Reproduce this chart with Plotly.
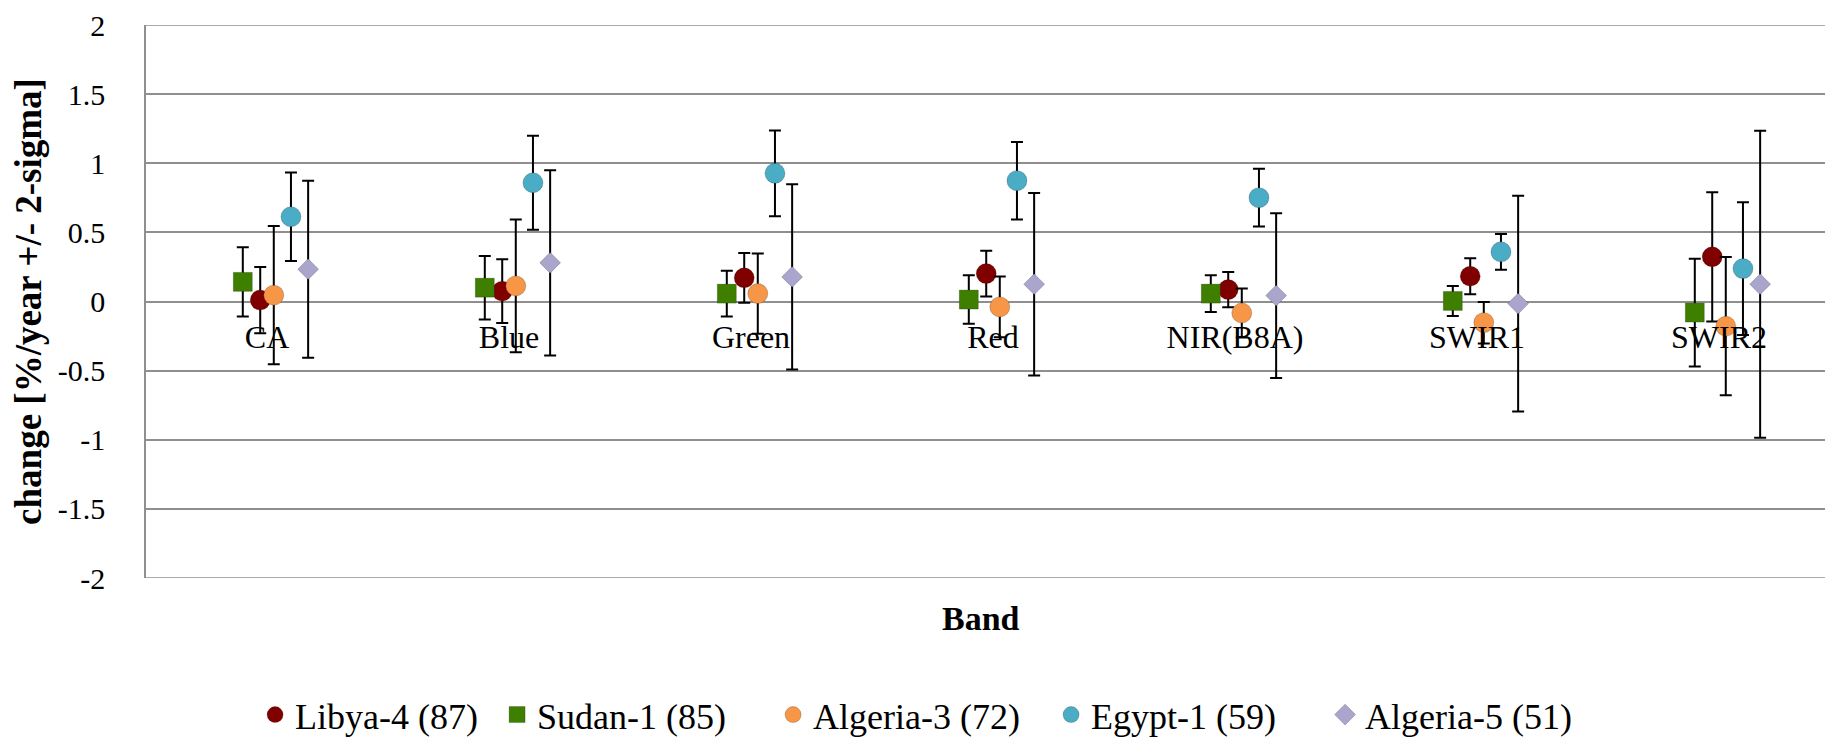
import plotly.graph_objects as go

categories = ["CA", "Blue", "Green", "Red", "NIR(B8A)", "SWIR1", "SWIR2"]
series_names = ["Libya-4 (87)", "Sudan-1 (85)", "Algeria-3 (72)", "Egypt-1 (59)", "Algeria-5 (51)"]

libya4 = [0.01, 0.075, 0.171, 0.202, 0.086, 0.183, 0.323]
libya4_err = [0.24, 0.23, 0.18, 0.165, 0.128, 0.13, 0.467]
sudan1 = [0.142, 0.10, 0.057, 0.014, 0.057, 0.004, -0.08]
sudan1_err = [0.25, 0.23, 0.165, 0.175, 0.133, 0.108, 0.39]
algeria3 = [0.046, 0.113, 0.057, -0.039, -0.083, -0.153, -0.179]
algeria3_err = [0.5, 0.48, 0.29, 0.22, 0.177, 0.15, 0.5]
egypt1 = [0.613, 0.859, 0.927, 0.874, 0.751, 0.359, 0.238]
egypt1_err = [0.32, 0.34, 0.31, 0.28, 0.209, 0.13, 0.48]
algeria5 = [0.234, 0.28, 0.178, 0.125, 0.043, -0.015, 0.125]
algeria5_err = [0.64, 0.67, 0.67, 0.66, 0.596, 0.78, 1.11]

y_ticks = [-2, -1.5, -1, -0.5, 0, 0.5, 1, 1.5, 2]
y_tick_text = ["-2", "-1.5", "-1", "-0.5", "0", "0.5", "1", "1.5", "2"]

# styling (horizontal offset of each series inside a category, in category units;
# legend entry width in px)
styles = [
    dict(color="#800000", symbol="circle", size=20, offset=-0.028, lw=197),
    dict(color="#3f7f00", symbol="square", size=19, offset=-0.100, lw=231),
    dict(color="#f79646", symbol="circle", size=20, offset=0.028, lw=233),
    dict(color="#4bacc6", symbol="circle", size=20, offset=0.099, lw=229),
    dict(color="#aaa5cc", symbol="diamond", size=16, offset=0.170, lw=215),
]
values = [libya4, sudan1, algeria3, egypt1, algeria5]
errors = [libya4_err, sudan1_err, algeria3_err, egypt1_err, algeria5_err]

FONT = "Liberation Serif"
GRID = "#8f8f8f"

fig = go.Figure()
for name, vals, errs, st in zip(series_names, values, errors, styles):
    xs = [i + 0.5 + st["offset"] for i in range(len(categories))]
    fig.add_trace(go.Scatter(
        x=xs, y=vals, name=name, mode="markers", legendwidth=st["lw"],
        marker=dict(color=st["color"], symbol=st["symbol"], size=st["size"],
                    line=dict(width=0.8, color="rgba(0,0,0,0.25)")),
        error_y=dict(type="data", array=errs, visible=True, color="black",
                     thickness=2, width=6),
    ))

# grid lines at the two ends of the value axis (plotly skips them at the range edges)
for yv in (y_ticks[0], y_ticks[-1]):
    fig.add_shape(type="line", xref="paper", yref="y", x0=0, x1=1, y0=yv, y1=yv,
                  line=dict(color=GRID, width=1.6), layer="below")

fig.update_layout(
    width=1833, height=740,
    margin=dict(l=138, r=1, t=17, b=170, autoexpand=False),
    paper_bgcolor="white", plot_bgcolor="white",
    font=dict(family=FONT, color="black"),
    showlegend=True,
    legend=dict(orientation="h", xref="container", yref="container",
                x=0.1348, xanchor="left", y=0.045, yanchor="middle",
                font=dict(size=36, family=FONT), itemwidth=30, tracegroupgap=0,
                bgcolor="rgba(0,0,0,0)"),
    xaxis=dict(range=[0, 7], tickmode="array",
               tickvals=[i + 0.5 for i in range(len(categories))],
               ticktext=categories, showgrid=False, zeroline=False,
               showline=False, ticks="", anchor="free", position=0.5,
               automargin=False, tickangle=0,
               tickfont=dict(size=32, family=FONT), ticklabelstandoff=13),
    yaxis=dict(range=[-2, 2], tickmode="array", tickvals=y_ticks, ticktext=y_tick_text,
               showgrid=True, gridcolor=GRID, gridwidth=1.6,
               zeroline=False, showline=True, linecolor=GRID, linewidth=1.6,
               ticks="", tickfont=dict(size=30, family=FONT), ticklabelstandoff=33,
               automargin=False, ticklabeloverflow="allow",
               title=dict(text="<b>change [%/year +/- 2-sigma]</b>",
                          font=dict(size=37, family=FONT), standoff=12)),
    annotations=[dict(text="<b>Band</b>", xref="paper", yref="paper", x=0.493, y=-0.0725,
                      xanchor="center", yanchor="middle", showarrow=False,
                      font=dict(size=34, family=FONT))],
)

fig.write_html("out.html")
